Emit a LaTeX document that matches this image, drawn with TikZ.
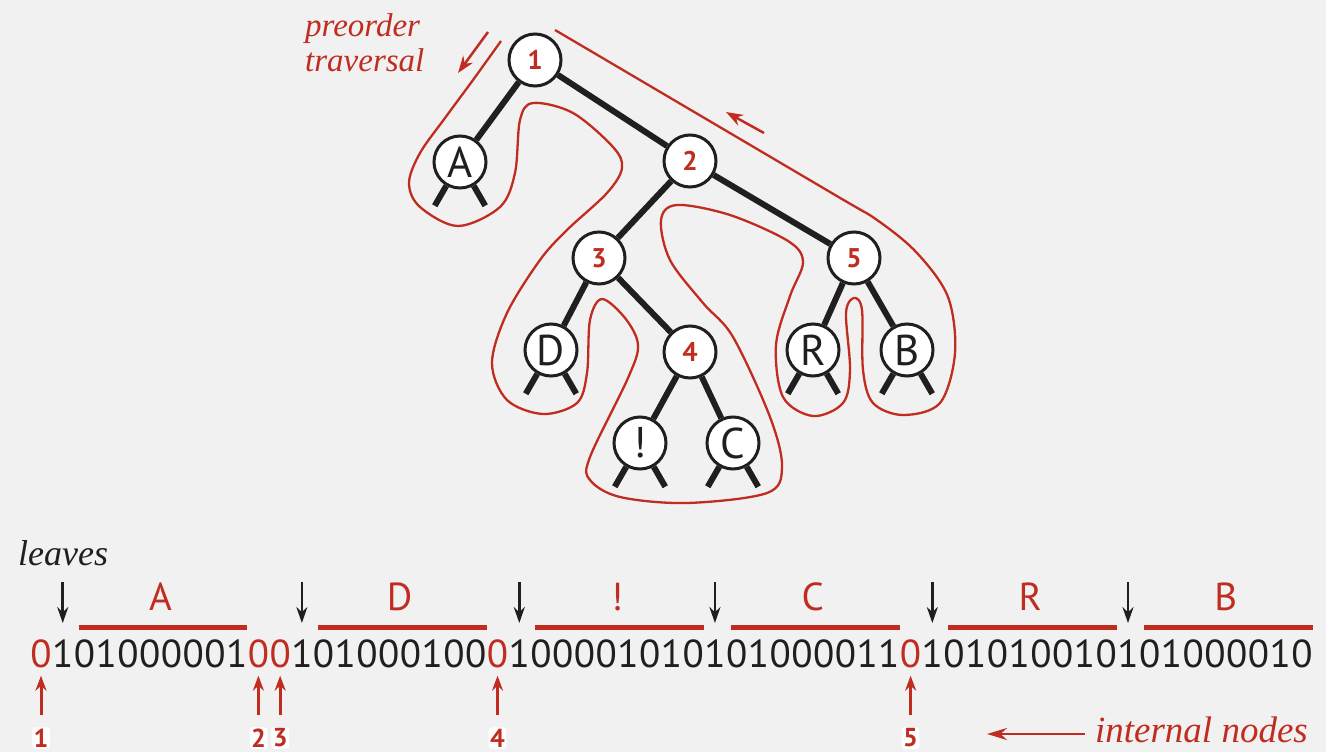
\documentclass[tikz,border=0pt]{standalone}
\usepackage{fontspec}
\setmainfont{Liberation Serif}
\setsansfont{PT Sans}
\usetikzlibrary{positioning, arrows.meta, calc}
\definecolor{paper}{RGB}{241,241,241}
\definecolor{tred}{RGB}{192,45,32}
\definecolor{ink}{RGB}{32,30,30}
\tikzstyle{inode}=[circle, minimum size=52pt, inner sep=0pt, draw=ink, line width=3pt, fill=white, text=tred, font=\sffamily\bfseries\fontsize{27}{27}\selectfont]
\tikzstyle{lnode}=[circle, minimum size=52pt, inner sep=0pt, draw=ink, line width=3pt, fill=white, text=ink, font=\sffamily\fontsize{43}{43}\selectfont]
\tikzstyle{edge}=[draw=ink, line width=6pt]
\tikzstyle{tour}=[draw=tred, line width=2.3pt]
\tikzstyle{tourarrow}=[draw=tred, line width=2.5pt, -{Stealth[length=17pt, width=12pt]}]
\tikzstyle{bit}=[inner sep=0pt, anchor=base, text=ink, font=\sffamily\fontsize{39}{39}\selectfont]
\tikzstyle{bar}=[draw=tred, line width=5pt]
\tikzstyle{leafarrow}=[draw=ink, line width=2.5pt, -{Stealth[length=16pt, width=11pt]}]
\tikzstyle{nodearrow}=[draw=tred, line width=3pt, -{Stealth[length=15pt, width=11pt]}]
\tikzstyle{num}=[fill=white, rounded corners=3pt, inner sep=1.5pt, text=tred, font=\sffamily\bfseries\fontsize{26}{26}\selectfont]
\tikzstyle{caption}=[inner sep=0pt, anchor=base west, font=\rmfamily\itshape\fontsize{36}{36}\selectfont]

\begin{document}
\begin{tikzpicture}[x=1pt, y=-1pt]
    \fill[paper] (0,0) rectangle (1326,752);
    \useasboundingbox (0,0) rectangle (1326,752);
    %preorder contour around the trie
    \draw[tour] plot[smooth, tension=.55] coordinates {
        (501,41) (473,80) (445,118) (420,153) (409,183) (420,207) (458,226)
        (500,207) (515,173) (520,120) (533,103) (573,113) (613,147) (622,168)
        (607,193) (567,230) (540,260) (507,313) (492,363) (507,400) (543,414)
        (577,403) (587,373) (590,320) (602,299) (625,318) (638,345) (628,378)
        (590,457) (590,480) (620,497) (687,503) (767,493) (782,467)
        (770,417) (733,337) (703,303) (670,260) (661,220) (677,205) (730,215)
        (788,241) (803,262) (790,296) (776,345) (783,397)
        (813,416) (843,403) (850,370) (846,313) (854,298) (862,310) (863,370)
        (873,403) (903,415) (940,403) (955,353) (948,297) (917,253) (877,220)
        (830,192) (555,30)};
    \coordinate (pa0) at (488,32);
    \coordinate (pa1) at (458,73);
    \coordinate (ra0) at (764,133);
    \coordinate (ra1) at (726,112);
    \draw[tourarrow] (pa0) -- (pa1);
    \draw[tourarrow] (ra0) -- (ra1);
    \node[caption, text=tred, font=\rmfamily\itshape\fontsize{33}{33}\selectfont] (pre1) at (305,37) {preorder};
    \node[caption, text=tred, font=\rmfamily\itshape\fontsize{33}{33}\selectfont] (pre2) at (305,72) {traversal};

    %the trie
    \node[inode] (n1) at (535,60) {1};
    \node[lnode, on grid, below left=102pt and 75pt of n1] (lA) {A};
    \node[inode, on grid, below right=101pt and 155pt of n1] (n2) {2};
    \node[inode, on grid, below left=97pt and 91pt of n2] (n3) {3};
    \node[inode, on grid, below right=97pt and 164pt of n2] (n5) {5};
    \node[lnode, on grid, below left=92pt and 48pt of n3] (lD) {D};
    \node[inode, on grid, below right=94pt and 91pt of n3] (n4) {4};
    \node[lnode, on grid, below left=91pt and 50pt of n4] (lex) {!};
    \node[lnode, on grid, below right=91pt and 43pt of n4] (lC) {C};
    \node[lnode, on grid, below left=92pt and 41pt of n5] (lR) {R};
    \node[lnode, on grid, below right=92pt and 53pt of n5] (lB) {B};
    \draw[edge] (n1) -- (lA);
    \draw[edge] (n1) -- (n2);
    \draw[edge] (n2) -- (n3);
    \draw[edge] (n2) -- (n5);
    \draw[edge] (n3) -- (lD);
    \draw[edge] (n3) -- (n4);
    \draw[edge] (n4) -- (lex);
    \draw[edge] (n4) -- (lC);
    \draw[edge] (n5) -- (lR);
    \draw[edge] (n5) -- (lB);
    \foreach \l in {lA,lD,lex,lC,lR,lB}{
        \draw[edge] (\l.-120) -- ++(-120:23pt);
        \draw[edge] (\l.-60) -- ++(-60:23pt);
    }

    %bit string, 2 = red zero of an internal node
    \foreach \bt [count=\k from 0] in {2,1,0,1,0,0,0,0,0,1,2,2,1,0,1,0,0,0,1,0,0,2,1,0,0,0,0,1,0,1,0,1,0,1,0,0,0,0,1,1,2,1,0,1,0,1,0,0,1,0,1,0,1,0,0,0,0,1,0}{
        \ifnum\bt=2
            \node[bit, text=tred] (b\k) at ({41+21.74*\k},667) {0};
        \else
            \node[bit] (b\k) at ({41+21.74*\k},667) {\bt};
        \fi
    }
    \coordinate (barrow) at (0,627);
    \coordinate (lblrow) at (0,610);
    \coordinate (ltop) at (0,582);
    \coordinate (numrow) at (0,738);
    \foreach \l/\s/\e in {A/2/9, D/13/20, !/23/30, C/32/39, R/42/49, B/51/58}{
        \draw[bar] ($(b\s.west |- barrow)+(5pt,0)$) -- (b\e.east |- barrow);
        \node[bit, text=tred] (lbl\s) at ($(b\s.west |- lblrow)!.5!(b\e.east |- lblrow)$) {\l};
    }
    \foreach \k in {1,12,22,31,41,50}{
        \draw[leafarrow, shorten >=16pt] (b\k.north |- ltop) -- (b\k.north);
    }
    \foreach \k/\n in {0/1,10/2,11/3,21/4,40/5}{
        \node[num] (m\n) at (b\k |- numrow) {\n};
        \draw[nodearrow, shorten <=12pt, shorten >=8pt] (m\n.north) -- (b\k.south);
    }

    \node[caption, text=ink] (lvs) at (18,565) {leaves};
    \node[caption, text=tred, anchor=base east, font=\rmfamily\itshape\fontsize{37}{37}\selectfont] (intl) at (1308,742) {internal nodes};
    \coordinate (intarr) at (987,734);
    \draw[tred, line width=2.5pt, -{Stealth[length=20pt, width=12pt]}, shorten <=10pt] (intl.west |- intarr) -- (intarr);
\end{tikzpicture}
\end{document}
